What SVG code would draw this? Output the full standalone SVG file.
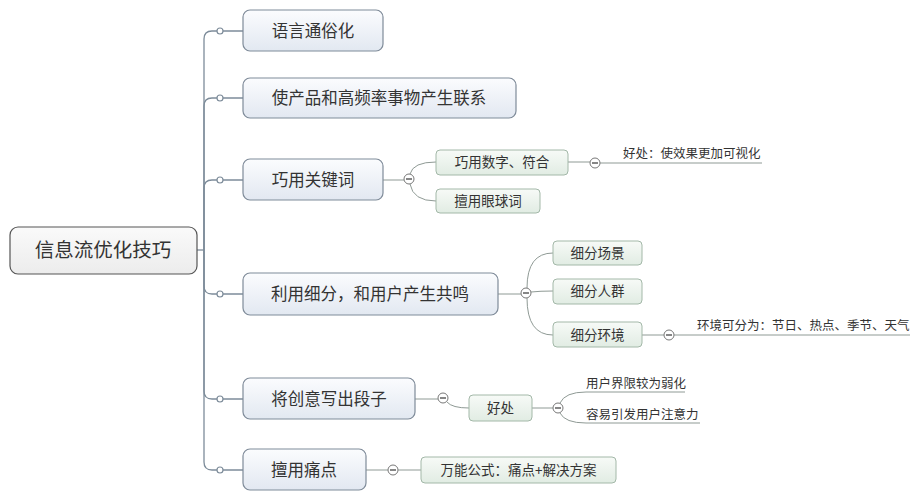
<svg xmlns="http://www.w3.org/2000/svg" width="923" height="495" viewBox="0 0 923 495">
<defs>
<linearGradient id="gMain" x1="0" y1="0" x2="0" y2="1"><stop offset="0" stop-color="#fbfcfe"/><stop offset="1" stop-color="#e2e8f1"/></linearGradient>
<linearGradient id="gSub" x1="0" y1="0" x2="0" y2="1"><stop offset="0" stop-color="#f7faf7"/><stop offset="1" stop-color="#e1ece3"/></linearGradient>
<linearGradient id="gRoot" x1="0" y1="0" x2="0" y2="1"><stop offset="0" stop-color="#fafafa"/><stop offset="1" stop-color="#ececec"/></linearGradient>
</defs>
<style>
text{font-family:"Noto Sans CJK SC","Noto Sans",sans-serif;fill:#333;}
.root rect{fill:url(#gRoot);stroke:#555;stroke-width:1.2;}
.main rect{fill:url(#gMain);stroke:#7f8b99;stroke-width:1.2;}
.sub rect{fill:url(#gSub);stroke:#a3b8a8;stroke-width:1;}
.rt{font-size:19.5px;text-anchor:middle;}
.mt{font-size:16.5px;text-anchor:middle;}
.st{font-size:13.5px;text-anchor:middle;}
.lt{font-size:12.5px;}
.trunk{fill:none;stroke:#7d8c9a;stroke-width:1.3;}
.br{fill:none;stroke:#8f9a95;stroke-width:1;}
.dot{fill:#fff;stroke:#7d8c9a;stroke-width:1.2;}
.col circle{fill:#fff;stroke:#777;stroke-width:1;}
.col line{stroke:#444;stroke-width:1.3;}
.ul{stroke:#888;stroke-width:1;}
</style>
<g id="connectors">
<path class="trunk" d="M197,250 H204"/>
<path class="trunk" d="M204,250 V39 Q204,31 212,31 H217"/>
<path class="trunk" d="M204,250 V106 Q204,98 212,98 H217"/>
<path class="trunk" d="M204,250 V188 Q204,180 212,180 H217"/>
<path class="trunk" d="M204,250 V286 Q204,294 212,294 H217"/>
<path class="trunk" d="M204,250 V391 Q204,399 212,399 H217"/>
<path class="trunk" d="M204,250 V462 Q204,470 212,470 H217"/>
<path class="trunk" d="M223,31 H243 M223,98 H243 M223,180 H243 M223,294 H243 M223,399 H243 M223,470 H243"/>
<circle class="dot" cx="220" cy="31" r="3"/>
<circle class="dot" cx="220" cy="98" r="3"/>
<circle class="dot" cx="220" cy="180" r="3"/>
<circle class="dot" cx="220" cy="294" r="3"/>
<circle class="dot" cx="220" cy="399" r="3"/>
<circle class="dot" cx="220" cy="470" r="3"/>
<path class="br" d="M383,180 H404"/>
<path class="br" d="M410,174 Q413,162 436,162"/>
<path class="br" d="M410,184 Q413,201 436,201"/>
<path class="br" d="M568,162 H590 M600,163 H762"/>
<path class="br" d="M498,294 H521"/>
<path class="br" d="M527,288 Q527,253 553,253"/>
<path class="br" d="M531,292 Q540,291 553,291"/>
<path class="br" d="M527,298 Q527,335 553,335"/>
<path class="br" d="M642,335 H664 M674,335 H910"/>
<path class="br" d="M415,399 H438"/>
<path class="br" d="M447,402 Q452,408 469,408"/>
<path class="br" d="M532,408 H553"/>
<path class="br" d="M560,403 Q565,392 586,392 H685"/>
<path class="br" d="M560,413 Q565,423 586,423 H700"/>
<path class="br" d="M366,470 H388 M398,470 H421"/>
</g>
<g id="collapse" class="col">
<circle cx="409" cy="179" r="5"/><line x1="406" y1="179" x2="412" y2="179"/>
<circle cx="595" cy="163" r="5"/><line x1="592" y1="163" x2="598" y2="163"/>
<circle cx="526" cy="293" r="5"/><line x1="523" y1="293" x2="529" y2="293"/>
<circle cx="669" cy="335" r="5"/><line x1="666" y1="335" x2="672" y2="335"/>
<circle cx="443" cy="398" r="5"/><line x1="440" y1="398" x2="446" y2="398"/>
<circle cx="558" cy="408" r="5"/><line x1="555" y1="408" x2="561" y2="408"/>
<circle cx="393" cy="470" r="5"/><line x1="390" y1="470" x2="396" y2="470"/>
</g>
<g id="root" class="root"><rect x="10" y="227" width="187" height="47" rx="8"/><text class="rt" x="103" y="257">信息流优化技巧</text></g>
<g id="n1" class="main"><rect x="243" y="10" width="140" height="41" rx="7"/><text class="mt" x="313" y="37">语言通俗化</text></g>
<g id="n2" class="main"><rect x="243" y="78" width="273" height="40" rx="7"/><text class="mt" x="379" y="104">使产品和高频率事物产生联系</text></g>
<g id="n3" class="main"><rect x="243" y="159" width="140" height="41" rx="7"/><text class="mt" x="313" y="186">巧用关键词</text></g>
<g id="n4" class="main"><rect x="243" y="273" width="255" height="42" rx="7"/><text class="mt" x="370" y="300">利用细分，和用户产生共鸣</text></g>
<g id="n5" class="main"><rect x="243" y="378" width="172" height="41" rx="7"/><text class="mt" x="329" y="405">将创意写出段子</text></g>
<g id="n6" class="main"><rect x="243" y="449" width="123" height="41" rx="7"/><text class="mt" x="304" y="476">擅用痛点</text></g>
<g id="n3a" class="sub"><rect x="436" y="150" width="132" height="25" rx="4"/><text class="st" x="502" y="167">巧用数字、符合</text></g>
<g id="n3b" class="sub"><rect x="436" y="189" width="104" height="24" rx="4"/><text class="st" x="488" y="206">擅用眼球词</text></g>
<g id="n3a1"><text class="lt" x="623" y="158">好处：使效果更加可视化</text></g>
<g id="n4a" class="sub"><rect x="553" y="241" width="89" height="24" rx="4"/><text class="st" x="597.5" y="258">细分场景</text></g>
<g id="n4b" class="sub"><rect x="553" y="279" width="89" height="25" rx="4"/><text class="st" x="597.5" y="296">细分人群</text></g>
<g id="n4c" class="sub"><rect x="553" y="322" width="89" height="25" rx="4"/><text class="st" x="597.5" y="340">细分环境</text></g>
<g id="n4c1"><text class="lt" x="697" y="330">环境可分为：节日、热点、季节、天气</text></g>
<g id="n5a" class="sub"><rect x="469" y="395" width="63" height="26" rx="4"/><text class="st" x="500.5" y="413">好处</text></g>
<g id="n5a1"><text class="lt" x="586" y="388">用户界限较为弱化</text></g>
<g id="n5a2"><text class="lt" x="586" y="419">容易引发用户注意力</text></g>
<g id="n6a" class="sub"><rect x="421" y="457" width="195" height="26" rx="4"/><text class="st" x="518.5" y="475">万能公式：痛点+解决方案</text></g>
</svg>
